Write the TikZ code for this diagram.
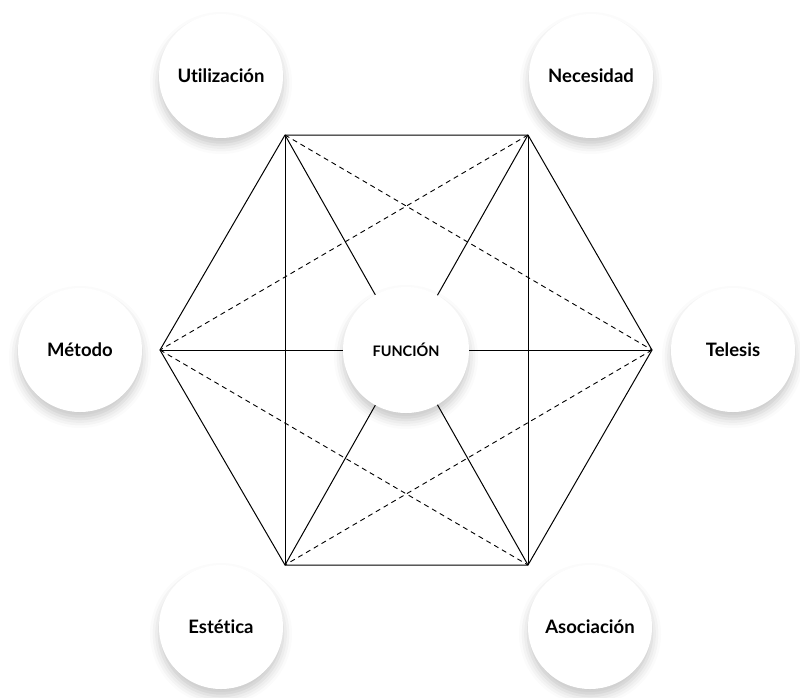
\documentclass[tikz,border=0pt]{standalone}
\usepackage{fontspec}
\setmainfont{Lato}[Ligatures={NoCommon}]
\usetikzlibrary{shadows.blur}
\begin{document}
\begin{tikzpicture}[x=1pt,y=-1pt,
  bubble/.style={circle, fill=white, minimum size=124pt, inner sep=0pt,
    font=\fontsize{18.5}{20}\selectfont\bfseries, text=black,
    blur shadow={shadow xshift=0pt, shadow yshift=-7pt, shadow blur radius=9pt, shadow opacity=22}},
  solidline/.style={draw=black, line width=1pt},
  dashline/.style={draw=black, line width=0.9pt, dash pattern=on 5pt off 4pt}]
\useasboundingbox (0,0) rectangle (800,697);
\coordinate (v1) at (285,135);
\coordinate (v2) at (528,135);
\coordinate (v3) at (652,350);
\coordinate (v4) at (528,565);
\coordinate (v5) at (285,565);
\coordinate (v6) at (160,350);
% hexagon
\draw[solidline] (v1) -- (v2) -- (v3) -- (v4) -- (v5) -- (v6) -- cycle;
% verticals
\draw[solidline] (v1) -- (v5);
\draw[solidline] (v2) -- (v4);
% main diagonals
\draw[solidline] (v1) -- (v4);
\draw[solidline] (v2) -- (v5);
\draw[solidline] (v6) -- (v3);
% dashed
\draw[dashline] (v1) -- (v3);
\draw[dashline] (v2) -- (v6);
\draw[dashline] (v6) -- (v4);
\draw[dashline] (v3) -- (v5);
% bubbles
\node[bubble, minimum size=126pt, font=\fontsize{14.5}{16}\selectfont\bfseries] (fun) at (406,350) {FUNCIÓN};
\node[bubble] (uti) at (221,76) {Utilización};
\node[bubble] (nec) at (591,76) {Necesidad};
\node[bubble] (met) at (80,350) {Método};
\node[bubble] (tel) at (733,350) {Telesis};
\node[bubble] (est) at (221,627) {Estética};
\node[bubble] (aso) at (590,627) {Asociación};
\end{tikzpicture}
\end{document}
